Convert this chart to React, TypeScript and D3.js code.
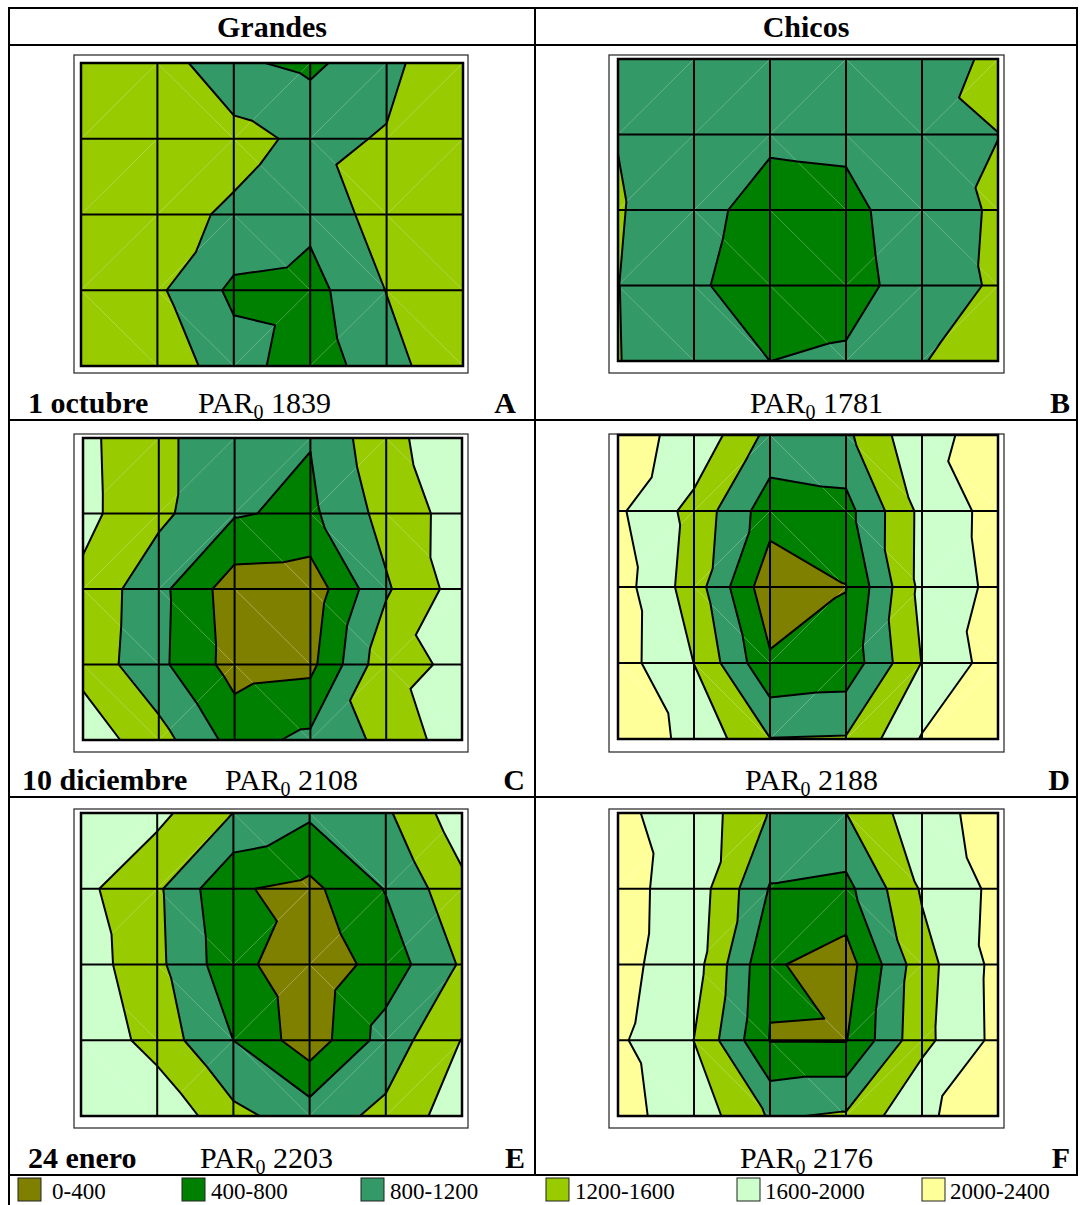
import React from 'react';
import * as d3 from 'd3';

// PAR bands (µmol m-2 s-1) and their fills
const thresholds = [400, 800, 1200, 1600, 2000];
const bandColors = ['#808000', '#008000', '#339966', '#99CC00', '#CCFFCC', '#FFFF99'];
const bandLabels = ['0-400', '400-800', '800-1200', '1200-1600', '1600-2000', '2000-2400'];

// Node values, rows top to bottom, 6 columns each
const grandesOctubre = [
  [1480, 1436, 860, 715, 1069, 1590],
  [1450, 1400, 1352, 1094, 1233, 1450],
  [1450, 1352, 1135, 906, 1404, 1450],
  [1400, 1266, 716, 655, 1210, 1450],
  [1450, 1470, 970, 575, 1044, 1517],
];
const chicosOctubre = [
  [1000, 950, 900, 950, 977, 1300],
  [1189, 950, 867, 890, 1105, 1197],
  [1231, 923, 650, 680, 1050, 1240],
  [1205, 856, 600, 640, 1000, 1253],
  [1210, 1000, 799, 860, 1183, 1400],
];
const grandesDiciembre = [
  [1695, 1298, 920, 818, 1500, 1833],
  [1707, 1297, 835, 719, 1344, 1778],
  [1512, 909, 190, 160, 1152, 1783],
  [1473, 892, 236, 293, 1483, 1672],
  [1836, 1355, 655, 890, 1309, 1848],
];
const chicosDiciembre = [
  [2102, 1917, 1084, 1120, 1920, 2102],
  [2066, 1469, 575, 665, 1705, 2152],
  [2188, 1404, 125, 390, 1713, 2101],
  [2182, 1595, 460, 540, 1610, 2201],
  [2217, 1907, 1210, 1232, 2032, 2300],
];
const grandesEnero = [
  [1800, 1708, 1195, 869, 1136, 1850],
  [1706, 1265, 440, 298, 821, 1498],
  [1824, 1291, 536, 111, 575, 1250],
  [1950, 1420, 798, 166, 968, 1612],
  [1850, 1952, 1300, 1010, 1298, 1837],
];
const chicosEnero = [
  [2059, 1862, 1172, 1198, 1857, 2143],
  [2121, 1834, 769, 685, 1645, 2100],
  [2115, 1776, 450, 215, 1450, 2120],
  [2066, 1595, 385, 380, 1488, 2110],
  [2097, 1849, 1157, 1250, 1960, 2142],
];

const columnTitles = ['Grandes', 'Chicos'];
const dates = ['1 octubre', '10 diciembre', '24 enero'];
const parGrandes = [1839, 2108, 2203];
const parChicos = [1781, 2188, 2176];
const panelLetters = ['A', 'B', 'C', 'D', 'E', 'F'];

const FONT = "'Liberation Serif', 'Times New Roman', serif";

type V = [number, number, number];

// Split every grid cell into two triangles along the diagonal whose end values sum higher
function triangulate(grid: number[][]) {
  const tris: V[][] = [];
  const diagonals: [V, V][] = [];
  for (let r = 0; r < grid.length - 1; r++) {
    for (let c = 0; c < grid[0].length - 1; c++) {
      const tl: V = [c, r, grid[r][c]];
      const tr: V = [c + 1, r, grid[r][c + 1]];
      const bl: V = [c, r + 1, grid[r + 1][c]];
      const br: V = [c + 1, r + 1, grid[r + 1][c + 1]];
      if (tl[2] + br[2] >= bl[2] + tr[2]) {
        tris.push([tl, tr, br], [tl, br, bl]);
        diagonals.push([tl, br]);
      } else {
        tris.push([tl, tr, bl], [tr, br, bl]);
        diagonals.push([bl, tr]);
      }
    }
  }
  return { tris, diagonals };
}

// Part of a polygon where the linearly interpolated value is >= t
function clipAbove(poly: V[], t: number): V[] {
  const out: V[] = [];
  for (let i = 0; i < poly.length; i++) {
    const a = poly[i];
    const b = poly[(i + 1) % poly.length];
    const ain = a[2] >= t;
    const bin = b[2] >= t;
    if (ain) out.push(a);
    if (ain !== bin) {
      const s = (t - a[2]) / (b[2] - a[2]);
      out.push([a[0] + s * (b[0] - a[0]), a[1] + s * (b[1] - a[1]), t]);
    }
  }
  return out;
}

function isoSegment(tri: V[], t: number): [number, number][] | null {
  const pts: [number, number][] = [];
  for (let i = 0; i < 3; i++) {
    const a = tri[i];
    const b = tri[(i + 1) % 3];
    if ((a[2] - t) * (b[2] - t) < 0) {
      const s = (t - a[2]) / (b[2] - a[2]);
      pts.push([a[0] + s * (b[0] - a[0]), a[1] + s * (b[1] - a[1])]);
    }
  }
  return pts.length === 2 ? pts : null;
}

type Box = [number, number, number, number];

function ContourPanel({ grid, frame, plot }: { grid: number[][]; frame: Box; plot: Box }) {
  const nCols = grid[0].length;
  const nRows = grid.length;
  const x = d3.scaleLinear().domain([0, nCols - 1]).range([plot[0], plot[2]]);
  const y = d3.scaleLinear().domain([0, nRows - 1]).range([plot[1], plot[3]]);
  const line = d3.line<V>().x((p) => x(p[0])).y((p) => y(p[1]));
  const { tris, diagonals } = triangulate(grid);
  const levels = [-Infinity, ...thresholds];

  const fills: { d: string; fill: string }[] = [];
  levels.forEach((lv, k) => {
    tris.forEach((tri) => {
      const poly = lv === -Infinity ? tri : clipAbove(tri, lv);
      if (poly.length >= 3) fills.push({ d: line(poly) + 'Z', fill: bandColors[k] });
    });
  });

  const iso = d3.path();
  tris.forEach((tri) => {
    thresholds.forEach((t) => {
      const seg = isoSegment(tri, t);
      if (seg) {
        iso.moveTo(x(seg[0][0]), y(seg[0][1]));
        iso.lineTo(x(seg[1][0]), y(seg[1][1]));
      }
    });
  });

  return (
    <g>
      <rect x={frame[0]} y={frame[1]} width={frame[2] - frame[0]} height={frame[3] - frame[1]}
        fill="#fff" stroke="#333" strokeWidth={1.3} />
      {fills.map((f, i) => (
        <path key={i} d={f.d} fill={f.fill} stroke={f.fill} strokeWidth={0.6} strokeLinejoin="round" />
      ))}
      {diagonals.map(([a, b], i) => (
        <line key={'s' + i} x1={x(a[0])} y1={y(a[1])} x2={x(b[0])} y2={y(b[1])}
          stroke="#fff" strokeOpacity={0.35} strokeWidth={0.8} />
      ))}
      <path d={iso.toString()} fill="none" stroke="#000" strokeWidth={2} strokeLinecap="round" />
      {d3.range(1, nCols - 1).map((c) => (
        <line key={'v' + c} x1={x(c)} x2={x(c)} y1={plot[1]} y2={plot[3]} stroke="#000" strokeWidth={2} />
      ))}
      {d3.range(1, nRows - 1).map((r) => (
        <line key={'h' + r} y1={y(r)} y2={y(r)} x1={plot[0]} x2={plot[2]} stroke="#000" strokeWidth={2} />
      ))}
      <rect x={plot[0]} y={plot[1]} width={plot[2] - plot[0]} height={plot[3] - plot[1]}
        fill="none" stroke="#000" strokeWidth={2.5} />
    </g>
  );
}

const panelGrids = [grandesOctubre, chicosOctubre, grandesDiciembre, chicosDiciembre, grandesEnero, chicosEnero];
const panelFrames: Box[] = [
  [74, 55, 468, 373], [609, 55, 1004, 373],
  [74, 434, 468, 752], [609, 434, 1004, 752],
  [74, 809, 468, 1128], [609, 809, 1004, 1128],
];
const panelPlots: Box[] = [
  [81, 63, 463, 366], [618, 59, 998, 361],
  [83, 438, 462, 740], [618, 435, 998, 739],
  [81, 813, 462, 1116], [618, 813, 998, 1116],
];

function ParLabel({ x, y, value }: { x: number; y: number; value: number }) {
  return (
    <text x={x} y={y} fontSize={30} fontFamily={FONT}>
      PAR<tspan fontSize={20} dy={6}>0</tspan><tspan dy={-6}>{' ' + value}</tspan>
    </text>
  );
}

export default function App() {
  const rowBaselines = [413, 790, 1168];
  const parLeftX = [198, 225, 200];
  const parRightX = [750, 745, 740];
  const letterRightX = [[516, 1070], [525, 1070], [525, 1070]];
  const legendX = [18, 182, 361, 546, 737, 922];
  const legendTextX = [52, 211, 390, 575, 765, 950];

  return (
    <svg width={1080} height={1205} style={{ position: 'absolute', left: 0, top: 0 }}>
      <rect width={1080} height={1205} fill="#fff" />

      {panelGrids.map((g, i) => (
        <ContourPanel key={i} grid={g} frame={panelFrames[i]} plot={panelPlots[i]} />
      ))}

      {/* table rules */}
      <g stroke="#000" strokeWidth={2}>
        <line x1={9} x2={1077} y1={8} y2={8} />
        <line x1={9} x2={1077} y1={45} y2={45} />
        <line x1={9} x2={1077} y1={420} y2={420} />
        <line x1={9} x2={1077} y1={797} y2={797} />
        <line x1={9} x2={1077} y1={1175} y2={1175} />
        <line x1={9} x2={9} y1={7} y2={1205} />
        <line x1={1077} x2={1077} y1={7} y2={1176} />
        <line x1={535} x2={535} y1={7} y2={1176} />
      </g>

      <text x={272} y={37} textAnchor="middle" fontSize={30} fontWeight="bold" fontFamily={FONT}>{columnTitles[0]}</text>
      <text x={806} y={37} textAnchor="middle" fontSize={30} fontWeight="bold" fontFamily={FONT}>{columnTitles[1]}</text>

      {dates.map((d, i) => (
        <g key={d}>
          <text x={i === 1 ? 22 : 28} y={rowBaselines[i]} fontSize={30} fontWeight="bold" fontFamily={FONT}>{d}</text>
          <ParLabel x={parLeftX[i]} y={rowBaselines[i]} value={parGrandes[i]} />
          <text x={letterRightX[i][0]} y={rowBaselines[i]} textAnchor="end" fontSize={30} fontWeight="bold" fontFamily={FONT}>{panelLetters[i * 2]}</text>
          <ParLabel x={parRightX[i]} y={rowBaselines[i]} value={parChicos[i]} />
          <text x={letterRightX[i][1]} y={rowBaselines[i]} textAnchor="end" fontSize={30} fontWeight="bold" fontFamily={FONT}>{panelLetters[i * 2 + 1]}</text>
        </g>
      ))}

      {bandLabels.map((lab, i) => (
        <g key={lab}>
          <rect x={legendX[i]} y={1178} width={23} height={23} fill={bandColors[i]} stroke="#222" strokeWidth={1} />
          <text x={legendTextX[i]} y={1199} fontSize={23} fontFamily={FONT}>{lab}</text>
        </g>
      ))}
    </svg>
  );
}
